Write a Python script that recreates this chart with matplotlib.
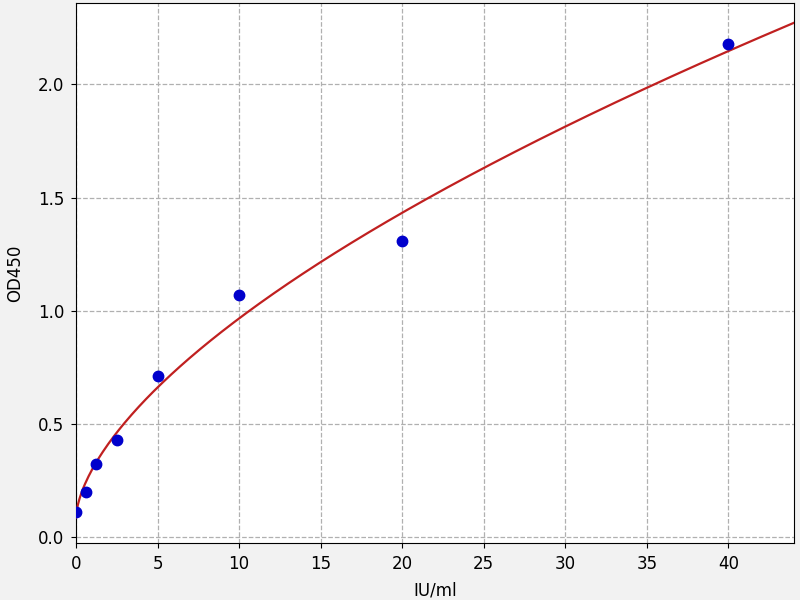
import numpy as np
from matplotlib import pyplot as plt

# standard concentrations and measured OD
conc = [0, 0.625, 1.25, 2.5, 5, 10, 20, 40]
od450 = [0.11, 0.20, 0.32, 0.43, 0.71, 1.07, 1.31, 2.18]

x_ticks = [0, 5, 10, 15, 20, 25, 30, 35, 40]
y_ticks = [0.0, 0.5, 1.0, 1.5, 2.0]

# fit y = a + b * x**c (grid over c, linear least squares for a, b)
xs = np.array(conc, dtype=float)
ys = np.array(od450, dtype=float)
best = None
for c in np.linspace(0.3, 1.2, 901):
    A = np.column_stack([np.ones_like(xs), xs ** c])
    coef, *_ = np.linalg.lstsq(A, ys, rcond=None)
    err = np.sum((A @ coef - ys) ** 2)
    if best is None or err < best[0]:
        best = (err, coef, c)
_, (a, b), c = best

fig = plt.figure(figsize=(8, 6), dpi=100, facecolor="#f2f2f2")
ax = fig.add_axes([0.095, 0.095, 0.897, 0.9])

xfit = np.linspace(0, 44, 400)
ax.plot(xfit, a + b * xfit ** c, color="#c02020", lw=1.6, zorder=3)
ax.plot(conc, od450, "o", color="#0000cc", ms=7.5, zorder=4)

ax.set_xlim(0, 44)
ax.set_ylim(-0.027, 2.36)
ax.set_xticks(x_ticks)
ax.set_yticks(y_ticks)
ax.grid(True, ls="--", color="#b0b0b0", lw=0.9)
ax.set_xlabel("IU/ml", fontsize=12, labelpad=6)
ax.set_ylabel("OD450", fontsize=12, labelpad=10)
ax.tick_params(labelsize=12, pad=5)

fig.savefig("out.png", dpi=100, facecolor=fig.get_facecolor())
